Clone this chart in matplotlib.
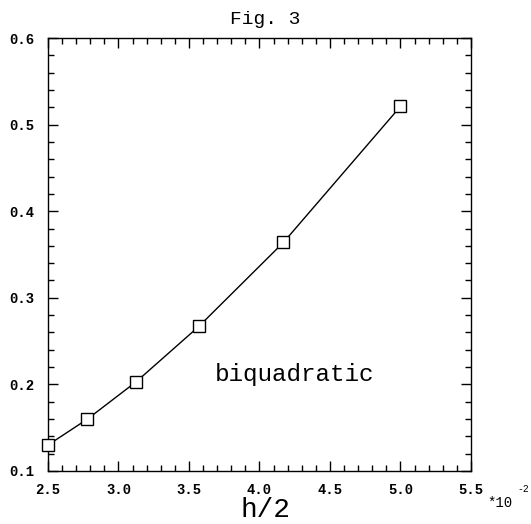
import matplotlib
matplotlib.use("Agg")
import matplotlib.pyplot as plt
from matplotlib.ticker import MultipleLocator

# data (h/2 in units of 1e-2)
h_half = [2.5, 2.78, 3.125, 3.57, 4.17, 5.0]
err = [0.130, 0.160, 0.203, 0.267, 0.364, 0.521]
x_ticks = [2.5, 3.0, 3.5, 4.0, 4.5, 5.0, 5.5]
y_ticks = [0.1, 0.2, 0.3, 0.4, 0.5, 0.6]

plt.rcParams["font.family"] = ["Liberation Mono", "DejaVu Sans Mono"]

fig = plt.figure(figsize=(5.31, 5.24), dpi=100)
ax = fig.add_axes([48 / 531, 53 / 524, 423 / 531, 433 / 524])

# curve + markers
ax.plot(h_half, err, color="black", lw=1.0)
ax.plot(h_half, err, ls="none", marker="s", ms=8, mfc="white", mec="black",
        mew=1.0, clip_on=False, zorder=5)

ax.set_xlim(2.5, 5.5)
ax.set_ylim(0.1, 0.6)
ax.xaxis.set_minor_locator(MultipleLocator(0.1))
ax.yaxis.set_minor_locator(MultipleLocator(0.02))
ax.set_xticks(x_ticks)
ax.set_yticks(y_ticks)
ax.set_xticklabels(["%.1f" % v for v in x_ticks], fontsize=10, fontweight="bold")
ax.set_yticklabels(["%.1f" % v for v in y_ticks], fontsize=10, fontweight="bold")

ax.tick_params(which="both", direction="in", top=True, right=True, width=1.0)
ax.tick_params(which="major", length=7)
ax.tick_params(which="minor", length=4)
ax.tick_params(axis="x", pad=9)
ax.tick_params(axis="y", pad=10)
for s in ax.spines.values():
    s.set_linewidth(1.0)

# texts
fig.text(0.5, 0.963, "Fig. 3", ha="center", va="center", fontsize=14)
ax.text(4.25, 0.211, "biquadratic", ha="center", va="center", fontsize=17.5)
fig.text(0.5, 0.027, "h/2", ha="center", va="center", fontsize=20)
fig.text(0.917, 0.04, "*10", ha="left", va="center", fontsize=10)
fig.text(0.974, 0.066, "-2", ha="left", va="center", fontsize=7)

fig.savefig("out.png", dpi=100)
